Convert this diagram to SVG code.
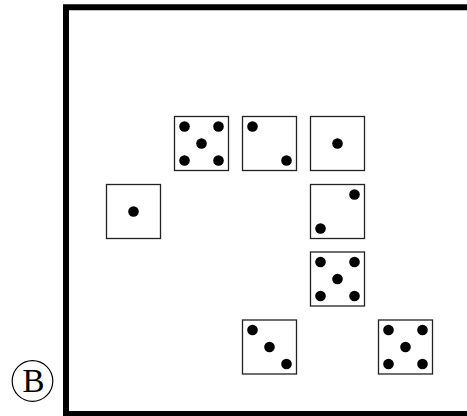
<svg xmlns="http://www.w3.org/2000/svg" width="467" height="416" viewBox="0 0 467 416">
<style>
.die{fill:#fff;stroke:#222;stroke-width:1.3}
.pip{fill:#000}
.frame{fill:none;stroke:#000;stroke-width:6}
</style>
<defs>
<circle id="p" r="5.3" class="pip"/>
</defs>
<rect width="467" height="416" fill="#fff"/>
<path class="frame" d="M475 7.3 H66 V414 H475"/>
<g id="label">
<circle cx="32.5" cy="381" r="20.3" fill="none" stroke="#000" stroke-width="1.2"/>
<text x="33.5" y="392.3" font-family="Liberation Serif, serif" font-size="33" text-anchor="middle">B</text>
</g>
<g id="die5a" transform="translate(174.5,116.5)">
<rect class="die" width="54" height="54"/>
<use href="#p" x="10" y="10"/><use href="#p" x="44" y="10"/><use href="#p" x="27" y="27"/><use href="#p" x="10" y="44"/><use href="#p" x="44" y="44"/>
</g>
<g id="die2a" transform="translate(242.5,116.5)">
<rect class="die" width="54" height="54"/>
<use href="#p" x="10" y="10"/><use href="#p" x="44" y="44"/>
</g>
<g id="die1a" transform="translate(310.5,116.5)">
<rect class="die" width="54" height="54"/>
<use href="#p" x="27" y="27"/>
</g>
<g id="die1b" transform="translate(106.5,184.5)">
<rect class="die" width="54" height="54"/>
<use href="#p" x="27" y="27"/>
</g>
<g id="die2b" transform="translate(310.5,184.5)">
<rect class="die" width="54" height="54"/>
<use href="#p" x="44" y="10"/><use href="#p" x="10" y="44"/>
</g>
<g id="die5b" transform="translate(310.5,252.0)">
<rect class="die" width="54" height="54"/>
<use href="#p" x="10" y="10"/><use href="#p" x="44" y="10"/><use href="#p" x="27" y="27"/><use href="#p" x="10" y="44"/><use href="#p" x="44" y="44"/>
</g>
<g id="die3" transform="translate(242.5,320)">
<rect class="die" width="54" height="54"/>
<use href="#p" x="10" y="10"/><use href="#p" x="27" y="27"/><use href="#p" x="44" y="44"/>
</g>
<g id="die5c" transform="translate(378.5,320)">
<rect class="die" width="54" height="54"/>
<use href="#p" x="10" y="10"/><use href="#p" x="44" y="10"/><use href="#p" x="27" y="27"/><use href="#p" x="10" y="44"/><use href="#p" x="44" y="44"/>
</g>
<g id="connectors"></g>
</svg>
